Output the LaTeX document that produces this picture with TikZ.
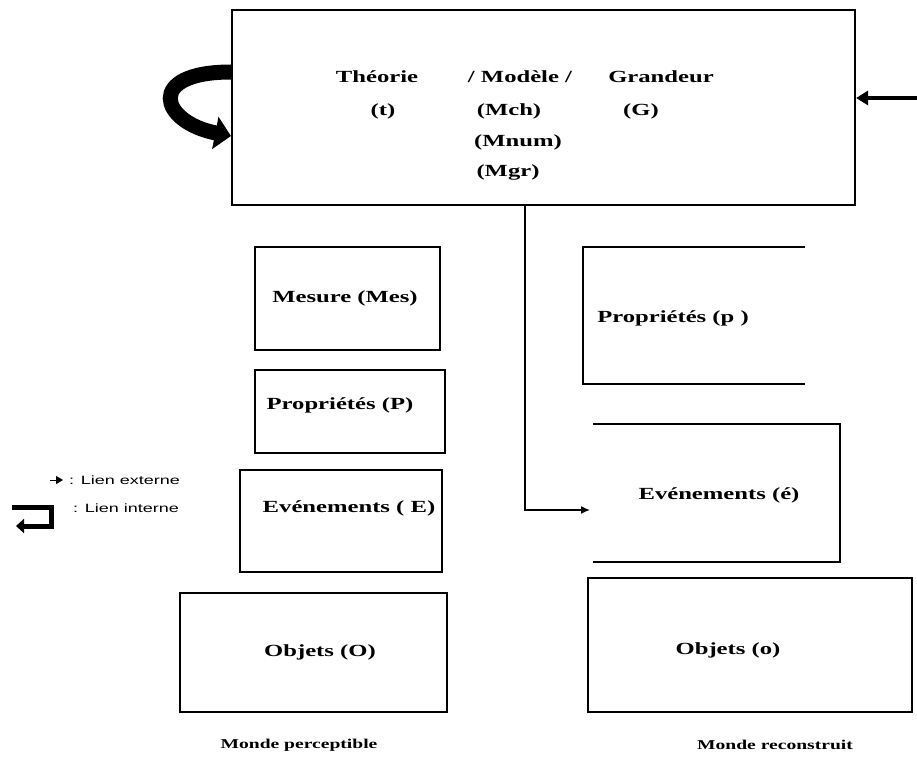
\documentclass[tikz,border=0pt]{standalone}
\usepackage{fontspec}
\setmainfont{Liberation Serif}[FakeStretch=1.45]
\newfontfamily\legfont{Liberation Sans}[FakeStretch=1.5]
\usetikzlibrary{arrows.meta}
\tikzset{
  box/.style={draw, line width=2.2pt, inner sep=0pt},
  openbox/.style={inner sep=0pt},
  edge/.style={line width=2.2pt},
  lbl/.style={font=\bfseries\fontsize{17}{20}\selectfont, inner sep=0pt},
  world/.style={font=\bfseries\fontsize{13.5}{16}\selectfont, inner sep=0pt},
  leg/.style={font=\legfont\fontsize{12}{14}\selectfont, inner sep=0pt, anchor=west},
  conn/.style={line width=1.4pt, -{Latex[length=9pt,width=8pt]}},
}
\begin{document}
\begin{tikzpicture}[x=1pt,y=-1pt]
\useasboundingbox (0,0) rectangle (917,765);
% top box
\node[box, minimum width=623pt, minimum height=195pt] (top) at (543.5,107.5) {};
\node[lbl] (theo) at (377,77) {Théorie};
\node[lbl] (mod) at (520,77) {/ Modèle /};
\node[lbl] (gra) at (661,77) {Grandeur};
\node[lbl] (t) at (383,111) {(t)};
\node[lbl] (mch) at (509,111) {(Mch)};
\node[lbl] (g) at (641,111) {(G)};
\node[lbl] (mnum) at (518,142) {(Mnum)};
\node[lbl] (mgr) at (508,172) {(Mgr)};
% left column
\node[box, minimum width=185pt, minimum height=103pt] (mes) at (347.5,298.5) {};
\node[lbl] (mest) at (345,298) {Mesure (Mes)};
\node[box, minimum width=190pt, minimum height=83pt] (propP) at (350,411.5) {};
\node[lbl] (propPt) at (340,405) {Propriétés (P)};
\node[box, minimum width=202pt, minimum height=102pt] (evE) at (341,521) {};
\node[lbl] (evEt) at (349,508) {Evénements ( E)};
\node[box, minimum width=267pt, minimum height=119pt] (objO) at (313.5,652.5) {};
\node[lbl] (objOt) at (320,652) {Objets (O)};
% right column
\node[openbox, minimum width=222pt, minimum height=137pt] (propp) at (694,315.5) {};
\draw[edge] (propp.north east) -- (propp.north west) -- (propp.south west) -- (propp.south east);
\node[lbl] (proppt) at (673,318) {Propriétés (p )};
\node[openbox, minimum width=247pt, minimum height=138pt] (eve) at (716.5,493) {};
\draw[edge] (eve.north west) -- (eve.north east) -- (eve.south east) -- (eve.south west);
\node[lbl] (evet) at (719,495) {Evénements (é)};
\node[box, minimum width=324pt, minimum height=134pt] (objo) at (750,645) {};
\node[lbl] (objot) at (728,650) {Objets (o)};
% world labels
\node[world] (mp) at (299,745) {Monde perceptible};
\node[world] (mr) at (775,745) {Monde reconstruit};
% connectors
\coordinate (vx) at (525,0);
\coordinate (ein) at (590,510);
\draw[conn] (top.south -| vx) |- (ein);
\coordinate (rin) at (917,98);
\draw[line width=4pt, -{Triangle[length=12pt,width=14pt]}] (rin) -- (top.east |- rin);
\coordinate (cst) at (top.west |- 0,72);
\coordinate (cend) at (231,136);
\draw[line width=15pt, -{Triangle[length=16pt,width=32pt]}] (cst) .. controls (145,72) and (160,122) .. (cend);
% legend
\coordinate (l1a) at (50,480);
\coordinate (l1b) at (63,480);
\draw[-{Triangle[length=7pt,width=8pt]}, line width=1pt] (l1a) -- (l1b);
\node[leg] (le) at (69,480) {: Lien externe};
\node[leg] (li) at (73,508) {: Lien interne};
\coordinate (h1) at (12,507);
\coordinate (h2) at (51,507);
\coordinate (h3) at (51,526);
\coordinate (h4) at (16,526);
\draw[line width=5pt, -{Triangle[length=8pt,width=14pt]}] (h1) -- (h2) -- (h3) -- (h4);
\end{tikzpicture}
\end{document}
